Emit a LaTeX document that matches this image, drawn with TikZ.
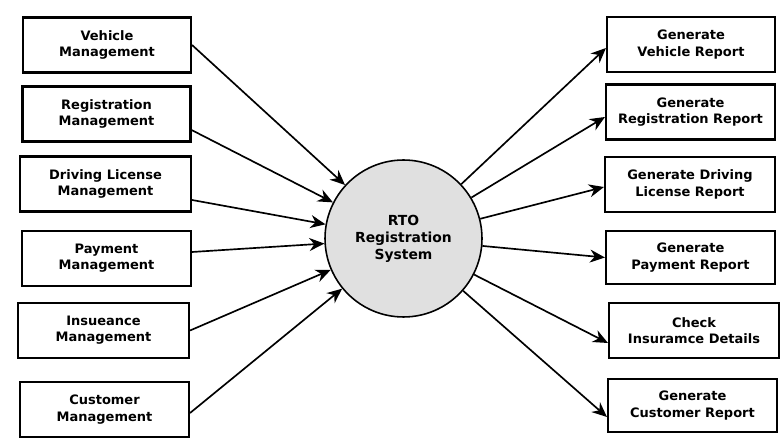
\documentclass[tikz,border=0pt]{standalone}
\usepackage{fontspec}
\setmainfont{DejaVu Sans}
\usetikzlibrary{arrows.meta, positioning, calc}
\definecolor{cProc}{RGB}{224,224,224}
\tikzset{
	ext/.style ={rectangle, draw=black, line width=1.2pt, minimum width=3.36cm, minimum height=1.1cm, align=center, inner sep=1pt, font=\fontsize{7.4}{9.2}\selectfont\bfseries},
	proc/.style={circle, draw=black, line width=0.9pt, fill=cProc, minimum size=3.14cm, align=center, inner sep=0pt, font=\fontsize{7.9}{9.7}\selectfont\bfseries},
	flow/.style={-{Stealth[length=3mm, width=2.6mm]}, line width=0.95pt},
}
\begin{document}
\begin{tikzpicture}[x=0.02cm, y=-0.02cm]
	\useasboundingbox (0,0) rectangle (784,445);
	% central process
	\node[proc] (sys) at (403.5,238.5) {RTO\\Registration\\System};
	% input side
	\node[ext] (veh) at (107,45) {Vehicle\\Management};
	\node[ext] (reg) at (106.5,114) {Registration\\Management};
	\node[ext, minimum width=3.42cm] (dl) at (105.5,184) {Driving License\\Management};
	\node[ext, minimum width=3.38cm] (pay) at (106.5,258.5) {Payment\\Management};
	\node[ext, minimum width=3.42cm] (ins) at (103.5,330.5) {Insueance\\Management};
	\node[ext, minimum width=3.38cm] (cus) at (104.5,409.5) {Customer\\Management};
	% output side
	\node[ext] (gveh) at (691,44.5) {Generate\\Vehicle Report};
	\node[ext, minimum width=3.38cm] (greg) at (690.5,112) {Generate\\Registration Report};
	\node[ext, minimum width=3.4cm] (gdl) at (690,184.5) {Generate Driving\\License Report};
	\node[ext, minimum width=3.38cm, minimum height=1.06cm] (gpay) at (690.5,257.5) {Generate\\Payment Report};
	\node[ext, minimum width=3.4cm] (chk) at (694,330.5) {Check\\Insuramce Details};
	\node[ext, minimum width=3.38cm, minimum height=1.06cm] (gcus) at (692.5,405.5) {Generate\\Customer Report};
	% flows in
	\draw[flow] (veh.east) -- (sys);
	\draw[flow] ([yshift=-0.32cm]reg.east) -- (sys);
	\draw[flow] ([yshift=-0.32cm]dl.east) -- (sys);
	\draw[flow] ([yshift=0.13cm]pay.east) -- (sys);
	\draw[flow] (ins.east) -- (sys);
	\draw[flow] ([yshift=-0.07cm]cus.east) -- (sys);
	% flows out
	\draw[flow] (sys) -- ([yshift=-0.07cm]gveh.west);
	\draw[flow] (sys) -- ([yshift=-0.1cm]greg.west);
	\draw[flow] (sys) -- ([yshift=-0.05cm]gdl.west);
	\draw[flow] (sys) -- (gpay.west);
	\draw[flow] (sys) -- ([yshift=-0.25cm]chk.west);
	\draw[flow] (sys) -- ([yshift=-0.23cm]gcus.west);
\end{tikzpicture}
\end{document}
